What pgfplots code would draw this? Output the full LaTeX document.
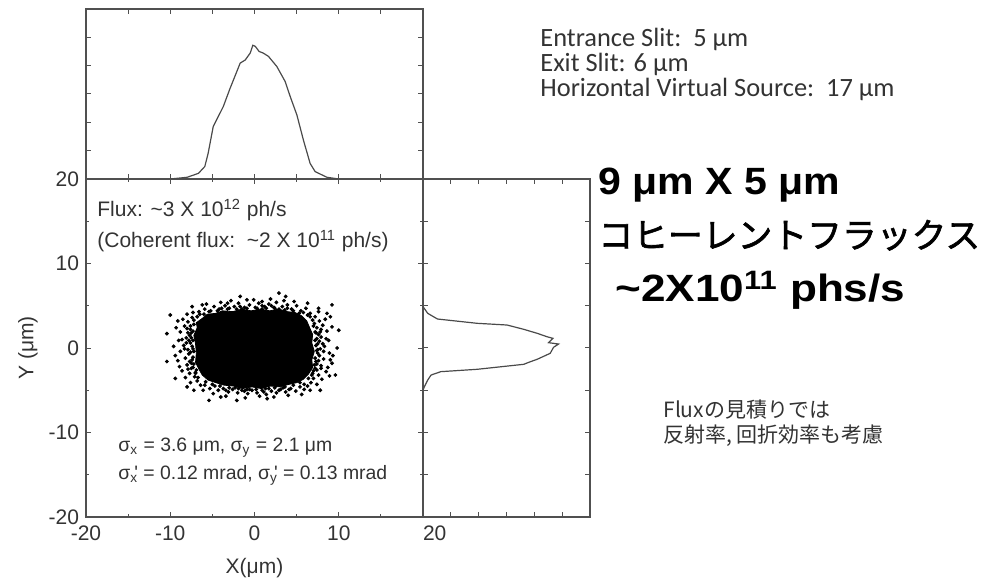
\documentclass[border=0pt]{standalone}
\usepackage{fontspec}
\setmainfont{Liberation Sans}
\newfontfamily\calfont{Carlito}
\newfontfamily\jpfont{Noto Sans CJK JP}
\newfontfamily\jpheavy[FakeBold=1.8]{Noto Sans CJK JP}
\usepackage{graphicx}
\usepackage{pgfplots}
\pgfplotsset{compat=1.18}

\definecolor{axisgray}{HTML}{505050}
\definecolor{textgray}{HTML}{333333}
\definecolor{curvegray}{HTML}{4A4A4A}

\pgfplotsset{
  panel/.style={
    scale only axis,
    tick align=inside,
    axis line style={axisgray, line width=0.6pt},
    every tick/.style={axisgray, line width=0.5pt},
    major tick length=2.4pt,
    minor tick length=1.6pt,
    tick label style={font=\fontsize{10.5}{12}\selectfont, text=textgray},
  },
}

\begin{document}
\begin{tikzpicture}
\path[use as bounding box] (0,0) rectangle (491.5pt,291pt);

% ---------- main scatter panel ----------
\begin{axis}[panel,
  at={(43pt,32.5pt)}, anchor=south west,
  width=168.5pt, height=169pt,
  xmin=-20, xmax=20, ymin=-20, ymax=20,
  xtick={-20,-10,0,10,20}, minor xtick={-15,-5,5,15},
  ytick={-20,-10,0,10,20}, minor ytick={-15,-5,5,15},
  xticklabels={-20,-10,0,10,\makebox[0pt][l]{20}},
  yticklabels={-20,-10,0,10,20},
  xticklabel style={yshift=-0.8pt},
  xlabel={X(μm)}, ylabel={Y (μm)},
  label style={font=\fontsize{10.5}{12}\selectfont, text=textgray},
  xlabel style={at={(rel axis cs:0.5,-0.151)}, anchor=center},
  ylabel style={at={(rel axis cs:-0.172,0.5)}, anchor=center},
]
% dense core of the spot
\addplot[fill=black, draw=black, line width=0.4pt] coordinates {
(-7.0,0.5) (-7.2,1.5) (-6.8,2.4) (-6.9,3.0) (-6.2,3.5) (-5.6,4.0) (-4.6,4.1)
(-3.8,4.4) (-2.6,4.3) (-1.5,4.6) (-0.4,4.4) (0.7,4.6) (1.8,4.4) (2.9,4.6)
(3.9,4.3) (4.8,4.2) (5.6,3.8) (6.2,3.2) (6.5,2.5) (6.9,1.6) (6.8,0.6)
(7.1,-0.4) (6.8,-1.4) (6.9,-2.3) (6.4,-3.1) (5.8,-3.7) (5.0,-4.1) (4.1,-4.3)
(3.0,-4.6) (1.9,-4.5) (0.8,-4.8) (-0.3,-4.6) (-1.4,-4.8) (-2.5,-4.5) (-3.6,-4.4)
(-4.6,-4.1) (-5.5,-3.8) (-6.2,-3.2) (-6.6,-2.5) (-7.0,-1.7) (-6.9,-0.6) (-7.0,0.5)
};
% individual rays at the fringe of the spot
\addplot[only marks, mark=*, mark size=0.75pt, black] coordinates {
(-7.4,3.6) (-7.9,3.1) (-8.3,2.6) (-7.6,2.2) (-8.8,1.9) (-7.5,1.8) (-8.1,1.2)
(-9.0,0.9) (-7.6,0.6) (-8.4,0.3) (-7.3,-0.1) (-8.8,-0.4) (-7.8,-0.7) (-8.2,-1.2)
(-7.4,-1.4) (-9.1,-1.5) (-8.0,-2.0) (-7.5,-2.4) (-8.6,-2.7) (-7.7,-3.0) (-7.1,-3.4)
(-8.2,-3.5) (-6.8,-3.9) (-7.6,-4.1) (-6.4,-4.4) (-8.5,3.4) (-7.2,2.8) (-9.3,2.4)
(-8.6,1.0) (-7.9,-0.2) (-9.4,-0.9) (-7.2,-1.9) (-8.9,-2.2) (-7.0,-2.9) (-8.0,-4.6)
(-7.3,4.2) (-8.0,4.0) (-9.1,3.2)
(7.2,3.7) (7.7,3.2) (8.1,2.7) (7.4,2.4) (8.6,2.0) (7.3,1.8) (7.9,1.3)
(8.8,0.9) (7.5,0.5) (8.3,0.2) (7.4,-0.3) (8.9,-0.6) (7.7,-0.9) (8.2,-1.3)
(7.3,-1.6) (9.0,-1.4) (7.9,-2.1) (7.4,-2.6) (8.5,-2.8) (7.6,-3.2) (7.0,-3.6)
(8.0,-3.7) (6.7,-4.1) (7.4,-4.3) (6.3,-4.5) (8.4,3.4) (7.1,2.9) (9.2,2.5)
(8.5,1.1) (7.8,-0.1) (9.3,-0.9) (7.1,-2.0) (8.7,-2.3) (6.9,-3.0) (8.6,4.1)
(7.6,4.3) (8.9,-3.3)
(-6.6,4.3) (-5.9,4.6) (-5.2,4.4) (-4.8,4.9) (-4.2,4.6) (-3.5,5.0) (-3.0,4.7)
(-2.4,4.9) (-1.9,5.3) (-1.2,4.8) (-0.6,5.1) (0.1,4.8) (0.5,5.3) (1.2,4.9)
(1.7,5.2) (2.3,4.8) (2.6,5.4) (3.3,4.9) (3.9,5.1) (4.4,4.6) (5.0,5.0)
(5.5,4.4) (6.1,4.7) (6.6,4.1) (-4.0,5.4) (-2.8,5.6) (-0.9,5.7) (1.9,5.8)
(3.5,5.6) (4.7,5.5) (-5.7,5.2) (6.3,5.3) (-1.5,4.6) (0.9,4.6) (2.9,4.6)
(-5.9,-4.4) (-5.3,-4.8) (-4.7,-4.5) (-4.3,-5.0) (-3.7,-4.8) (-3.1,-5.2) (-2.6,-4.9)
(-2.0,-5.3) (-1.5,-5.0) (-0.8,-5.4) (-0.3,-5.0) (0.3,-5.3) (0.9,-5.0) (1.4,-5.5)
(2.0,-5.1) (2.6,-5.3) (3.1,-4.9) (3.7,-5.2) (4.3,-4.8) (4.9,-5.1) (5.4,-4.6)
(5.9,-4.9) (-4.9,-5.4) (-3.4,-5.7) (-1.1,-5.9) (0.6,-5.7) (2.3,-5.8) (4.0,-5.6)
(-6.1,-5.0) (5.6,-5.5) (-2.3,-4.7) (1.7,-4.8) (3.4,-4.7) (-0.6,-4.9)
(2.9,6.5) (-1.7,6.1) (3.7,6.1) (-10.0,3.9) (-10.4,1.7) (-10.4,-1.6) (10.0,2.1)
(9.6,-3.2) (9.2,5.1) (7.8,-5.0) (-5.4,-6.2) (-2.1,-6.2) (1.5,-6.0) (-4.0,-5.8)
(6.6,-5.0) (-7.2,-5.0) (-7.4,4.9) (-6.2,5.1) (-3.2,5.3) (-0.1,5.7) (0.9,5.5)
(7.6,4.7) (9.0,3.7) (9.8,0.0) (9.2,-1.8) (-9.4,-3.6) (-9.6,0.2)
(-7.3,2.0) (-7.5,1.2) (-7.4,0.2) (-7.6,-0.5) (-7.3,-1.1) (-7.5,-1.8) (-7.3,-2.3)
(-7.6,2.6) (-7.7,1.5) (-7.8,0.9) (-7.2,-0.4) (-7.7,-1.6) (-7.2,3.3) (-6.8,3.7)
(-6.5,4.0) (-7.0,-3.0) (-6.7,-3.5) (-6.9,-2.6) (-7.9,-2.5) (-8.1,0.6) (-8.3,-0.1)
(-8.0,2.3) (-7.3,0.9) (-7.9,1.8)
(7.2,1.9) (7.4,1.1) (7.3,0.3) (7.5,-0.6) (7.2,-1.2) (7.4,-1.9) (7.2,-2.4)
(7.0,2.6) (7.6,1.6) (7.7,0.8) (7.5,-0.2) (7.6,-1.5) (6.9,3.3) (6.6,3.7)
(6.3,3.9) (6.8,-3.2) (6.4,-3.6) (7.0,-2.7) (7.9,-2.4) (8.1,0.5) (8.2,-0.4)
(7.9,2.2) (7.2,0.9) (7.8,1.9)
(-5.4,4.3) (-4.4,4.4) (-3.2,4.6) (-2.1,4.6) (-0.9,4.7) (0.3,4.7) (1.4,4.7)
(2.4,4.7) (3.6,4.5) (4.6,4.4) (5.3,4.1) (-6.0,4.0) (-3.9,4.7) (-1.7,4.9)
(0.9,5.0) (2.0,5.0) (3.9,4.7) (5.8,4.2)
(-5.0,-4.3) (-4.1,-4.5) (-3.0,-4.7) (-1.9,-4.8) (-0.9,-4.9) (0.2,-4.9) (1.3,-4.8)
(2.4,-4.7) (3.6,-4.6) (4.6,-4.4) (5.4,-4.1) (-5.8,-4.0) (-3.4,-5.0) (-1.2,-5.1)
(1.1,-5.2) (2.9,-5.0) (4.1,-4.9) (5.9,-4.3)
};
\end{axis}

% ---------- horizontal profile (top) ----------
\begin{axis}[panel,
  at={(43pt,201.5pt)}, anchor=south west,
  width=168.5pt, height=85pt,
  xmin=-20, xmax=20, ymin=0, ymax=6,
  xtick={-20,-15,...,20}, ytick={0,1,...,6},
  xticklabels={}, yticklabels={},
]
\addplot[curvegray, line width=0.6pt] coordinates {
(-10.0,0) (-8.0,0.06) (-6.65,0.2) (-5.9,0.44) (-5.5,0.91) (-4.9,1.85)
(-3.7,2.56) (-2.9,3.2) (-1.7,4.09) (-1.1,4.2) (-0.5,4.45) (-0.2,4.72)
(0.1,4.68) (0.55,4.5) (1.0,4.45) (1.65,4.33) (2.65,3.97) (3.64,3.44)
(4.24,2.91) (5.03,2.26) (5.8,1.38) (6.6,0.55) (7.2,0.26) (8.6,0.06) (10.0,0)
};
\end{axis}

% ---------- vertical profile (right) ----------
\begin{axis}[panel,
  at={(211.5pt,32.5pt)}, anchor=south west,
  width=83.5pt, height=169pt,
  xmin=0, xmax=6, ymin=-20, ymax=20,
  xtick={0,1,...,6}, ytick={-20,-15,...,20},
  xticklabels={}, yticklabels={},
]
\addplot[curvegray, line width=0.6pt] coordinates {
(0,4.9) (0.17,4.1) (0.52,3.43) (1.95,2.92) (3.02,2.72) (3.62,2.21)
(4.1,1.74) (4.45,1.34) (4.67,1.14) (4.51,0.63) (4.87,0.47) (4.69,0.08)
(4.57,-0.63) (4.1,-1.34) (3.86,-1.62) (3.62,-1.93) (1.95,-2.52) (0.64,-2.8)
(0.29,-3.2) (0.17,-3.79) (0.05,-4.58) (0,-4.97)
};
\end{axis}

% ---------- annotations ----------
\begin{scope}[every node/.style={inner sep=0pt, anchor=base west}]
\node[text=textgray, font=\fontsize{10.5}{12}\selectfont] at (48.5pt,182.5pt)
  {Flux: \textasciitilde 3 X 10\textsuperscript{12} ph/s};
\node[text=textgray, font=\fontsize{10.5}{12}\selectfont] at (48.5pt,167pt)
  {(Coherent flux:\ \ \textasciitilde 2 X 10\textsuperscript{11} ph/s)};
\node[text=textgray, font=\fontsize{9.7}{11}\selectfont] at (59pt,65pt)
  {σ\textsubscript{x} = 3.6 μm, σ\textsubscript{y} = 2.1 μm};
\node[text=textgray, font=\fontsize{9.7}{11}\selectfont] at (59pt,51pt)
  {σ\textsubscript{x}\kern-0.2em\textquotesingle\ = 0.12 mrad, σ\textsubscript{y}\kern-0.2em\textquotesingle\ = 0.13 mrad};

\node[text=textgray, font=\calfont\fontsize{13.2}{15}\selectfont] at (270pt,267.7pt)
  {Entrance Slit:\ \ 5 μm};
\node[text=textgray, font=\calfont\fontsize{13.2}{15}\selectfont] at (270pt,255.2pt)
  {Exit Slit: 6 μm};
\node[text=textgray, font=\calfont\fontsize{13.2}{15}\selectfont] at (270pt,242.7pt)
  {Horizontal Virtual Source:\ \ 17 μm};

\node[font=\bfseries\fontsize{19}{22}\selectfont] at (299pt,193.5pt)
  {\scalebox{1.08}[1]{9 μm X 5 μm}};
\node[font=\jpheavy\fontsize{17.4}{20}\selectfont] at (299pt,167pt)
  {コヒーレントフラックス};
\node[font=\bfseries\fontsize{19}{22}\selectfont] at (307.5pt,140pt)
  {\scalebox{1.16}[1]{\textasciitilde 2X10\textsuperscript{11} phs/s}};

\node[text=textgray, font=\jpfont\fontsize{10.5}{12}\selectfont] at (331.5pt,82pt)
  {Fluxの見積りでは};
\node[text=textgray, font=\jpfont\fontsize{10.5}{12}\selectfont] at (331.5pt,69.5pt)
  {反射率, 回折効率も考慮};
\end{scope}
\end{tikzpicture}
\end{document}
